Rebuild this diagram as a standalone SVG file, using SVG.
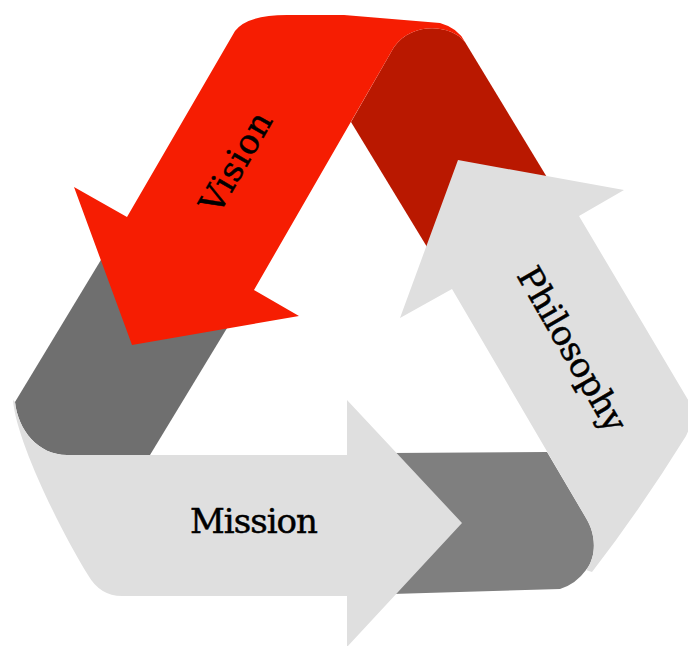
<svg xmlns="http://www.w3.org/2000/svg" width="688" height="646" viewBox="0 0 688 646">
<style>
.bg{fill:#ffffff}
.red{fill:#F61D02}
.darkred{fill:#B91800}
.light{fill:#DFDFDF}
.grayL{fill:#6F6F6F}
.grayB{fill:#7F7F7F}
.lbl{font-family:"DejaVu Serif","Liberation Serif",serif;font-size:34px;fill:#000000;stroke:#000000;stroke-width:0.5;text-anchor:middle}
</style>
<rect class="bg" x="0" y="0" width="688" height="646"/>
<g id="folds">
  <path class="darkred" d="M 394,47 C 412,22 450,24 465,42 L 562,202 L 441,270 L 351,122 Z"/>
  <path class="grayB" d="M 392,453 L 547,452 L 586,518 C 596,534 597,556 586,570 Q 576,584 560,589 L 392,594 Z"/>
  <path class="grayL" d="M 113,240 L 238,310 L 150,455 L 67,455 C 38,455 18,430 15,402 Z"/>
</g>
<g id="philosophy">
  <path class="light" d="M 452,289 L 400,318 L 458,160 L 624,190 L 579,216 L 690,403 Q 695,418 686,436 Q 640,510 592,572 L 586,570 C 597,556 596,534 586,518 Z"/>
  <text class="lbl" transform="translate(562,355) rotate(60)" x="0" y="0" textLength="184">Philosophy</text>
</g>
<g id="mission">
  <path class="light" d="M 13,400 C 16,440 60,530 88,575 Q 100,596 122,596 L 347,596 L 347,647 L 462,523 L 347,400 L 347,455 L 67,455 C 38,455 18,430 15,402 Z"/>
  <text class="lbl" x="254" y="533" textLength="128">Mission</text>
</g>
<g id="vision">
  <path class="red" d="M 127,217 L 235,31 Q 247,15 287,15 L 344,15 L 440,23 Q 458,28 465,42 C 450,24 412,22 394,47 L 254,290 L 299,316 L 132,345 L 74,187 Z"/>
  <text class="lbl" transform="translate(246,168) rotate(-60)" x="0" y="0" textLength="110">Vision</text>
</g>
<g id="connectors"/>
</svg>
